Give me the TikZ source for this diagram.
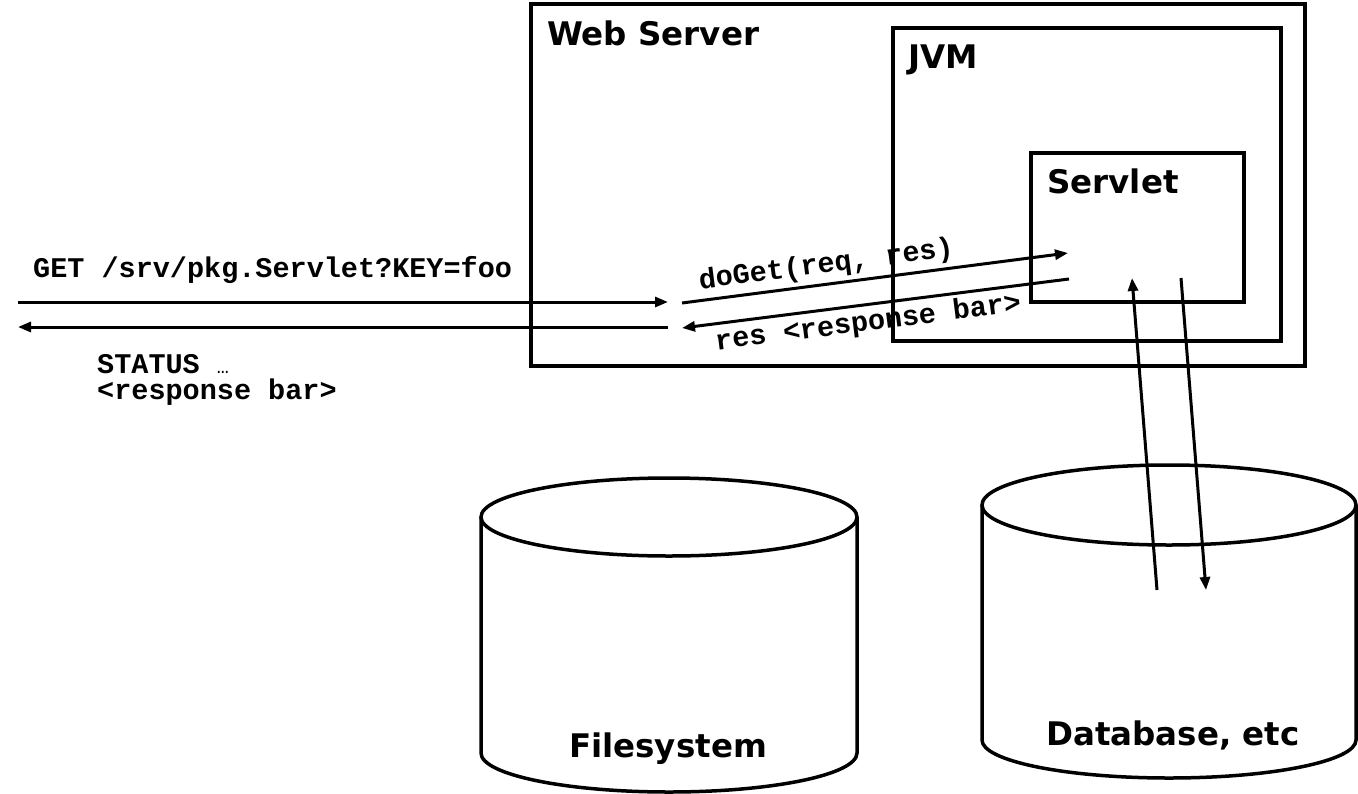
\documentclass[tikz,border=0pt]{standalone}
\usepackage{fontspec}
\setmainfont{DejaVu Sans}
\newfontfamily\codefont{Liberation Mono}
\usetikzlibrary{arrows.meta,positioning}

\begin{document}
\begin{tikzpicture}[
    x=1pt, y=-1pt,
    frame/.style={draw, line width=3.5pt, inner sep=0pt},
    title/.style={font=\fontsize{32.5}{36}\selectfont\bfseries, inner sep=0pt},
    code/.style={font=\codefont\bfseries\fontsize{28.5}{32}\selectfont, inner sep=0pt},
    store/.style={line width=3.5pt},
    arrow/.style={-{Triangle[length=13pt,width=10pt]}, line width=3pt}
]
    \useasboundingbox (0,0) rectangle (1358,793);

    % containers
    \node[frame, minimum width=774pt, minimum height=362pt] (web) at (918,185) {};
    \node[frame, minimum width=388pt, minimum height=313pt] (jvm) at (1087,184.5) {};
    \node[frame, minimum width=213pt, minimum height=149pt] (servlet) at (1137.5,227.5) {};
    \node[title, anchor=base west] (webtitle) at (547,45) {Web Server};
    \node[title, anchor=base west] (jvmtitle) at (908,68) {JVM};
    \node[title, anchor=base west] (servlettitle) at (1047,193) {Servlet};

    % storage
    \draw[store] (481,517) -- (481,753) arc[start angle=180, end angle=0, x radius=188, y radius=39] -- (857,517);
    \draw[store] (669,517) ellipse[x radius=188, y radius=39];
    \node[title, anchor=base] (fs) at (668,757) {Filesystem};
    \draw[store] (982,505) -- (982,740) arc[start angle=180, end angle=0, x radius=187, y radius=38] -- (1356,505);
    \draw[store] (1169,505) ellipse[x radius=187, y radius=40];
    \node[title, anchor=base] (db) at (1173,745) {Database, etc};

    % end points
    \coordinate (client-out) at (18,302);
    \coordinate (server-in) at (668,302);
    \coordinate (server-out) at (668,327);
    \coordinate (client-in) at (18,327);
    \coordinate (call-start) at (682,303);
    \coordinate (call-end) at (1068,253);
    \coordinate (ret-start) at (1069,279);
    \coordinate (ret-end) at (682,328);
    \coordinate (db-up-start) at (1157,590);
    \coordinate (db-up-end) at (1132,278);
    \coordinate (db-down-start) at (1181,278);
    \coordinate (db-down-end) at (1206,590);

    \draw[arrow] (client-out) -- (server-in);
    \draw[arrow] (server-out) -- (client-in);
    \draw[arrow] (call-start) -- (call-end)
        node[code, pos=0.38, sloped, above, inner sep=4pt] (call) {doGet(req, res)};
    \draw[arrow] (ret-start) -- (ret-end)
        node[code, pos=0.525, sloped, below, inner sep=4pt] (ret) {res <response bar>};
    \draw[arrow] (db-up-start) -- (db-up-end);
    \draw[arrow] (db-down-start) -- (db-down-end);

    \node[code, anchor=base west] (request) at (33,277) {GET /srv/pkg.Servlet?KEY=foo};
    \node[code, anchor=base west] (status) at (97,373) {STATUS {\mdseries\fontsize{20}{24}\selectfont …}};
    \node[code, anchor=base west] (response) at (97,399) {<response bar>};
\end{tikzpicture}
\end{document}
